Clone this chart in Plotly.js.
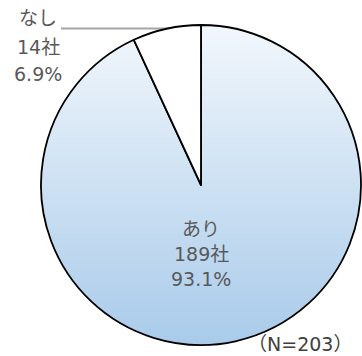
<!DOCTYPE html>
<html><head><meta charset="utf-8">
<script src="https://cdn.plot.ly/plotly-3.0.1.min.js"></script>
<style>body{margin:0;background:#fff}#chart{width:362px;height:356px}</style>
</head><body><div id="chart"></div>
<script>
const labels = ["あり", "なし"];
const counts = [189, 14];
const percents = ["93.1%", "6.9%"];
const note = "（N=203）";

const W = 362, H = 356;
const px = x => x / W, py = y => 1 - y / H;
const fam = "DejaVu Sans, Noto Sans CJK JP, sans-serif";
const font = {family: fam, size: 19, color: "#595959"};

const trace = {
  type: "pie",
  labels: labels,
  values: counts,
  sort: false,
  direction: "clockwise",
  rotation: 0,
  textinfo: "none",
  hoverinfo: "none",
  marker: {colors: ["#c9ddf1", "#ffffff"], line: {color: "#000000", width: 1.8}},
  domain: {x: [px(41), px(361)], y: [py(345), py(25)]},
  showlegend: false
};

function labelLines(i, cx, ys) {
  const lines = [labels[i], counts[i] + "社", percents[i]];
  return lines.map((t, k) => ({
    x: px(cx), y: py(ys[k]), xref: "paper", yref: "paper",
    xanchor: "center", yanchor: "middle", showarrow: false,
    text: t, font: font
  }));
}

const layout = {
  width: W, height: H,
  margin: {l: 0, r: 0, t: 0, b: 0},
  paper_bgcolor: "#ffffff",
  showlegend: false,
  annotations: [
    ...labelLines(0, 201, [229, 254, 279]),
    ...labelLines(1, 38, [18, 47, 74]),
    {x: px(300), y: py(344), xref: "paper", yref: "paper", xanchor: "center", yanchor: "middle",
     showarrow: false, text: note, font: {family: fam, size: 19, color: "#404040"}}
  ],
  shapes: [
    {type: "line", xref: "paper", yref: "paper", x0: px(61), x1: px(188), y0: py(28.5), y1: py(28.5),
     line: {color: "#a6a6a6", width: 2}, layer: "below"}
  ]
};

Plotly.newPlot("chart", [trace], layout, {displayModeBar: false, staticPlot: true}).then(gd => {
  const svg = gd.querySelector("svg.main-svg");
  const ns = "http://www.w3.org/2000/svg";
  let defs = svg.querySelector("defs");
  if (!defs) { defs = document.createElementNS(ns, "defs"); svg.insertBefore(defs, svg.firstChild); }
  const g = document.createElementNS(ns, "linearGradient");
  g.setAttribute("id", "blueGrad");
  g.setAttribute("x1", "0"); g.setAttribute("y1", "0");
  g.setAttribute("x2", "0"); g.setAttribute("y2", "1");
  [["0", "#f2f7fc"], ["1", "#a9cbea"]].forEach(([o, c]) => {
    const s = document.createElementNS(ns, "stop");
    s.setAttribute("offset", o); s.setAttribute("stop-color", c);
    g.appendChild(s);
  });
  defs.appendChild(g);
  const paths = gd.querySelectorAll(".slice path.surface");
  if (paths.length) paths[0].style.fill = "url(#blueGrad)";
});
</script></body></html>
